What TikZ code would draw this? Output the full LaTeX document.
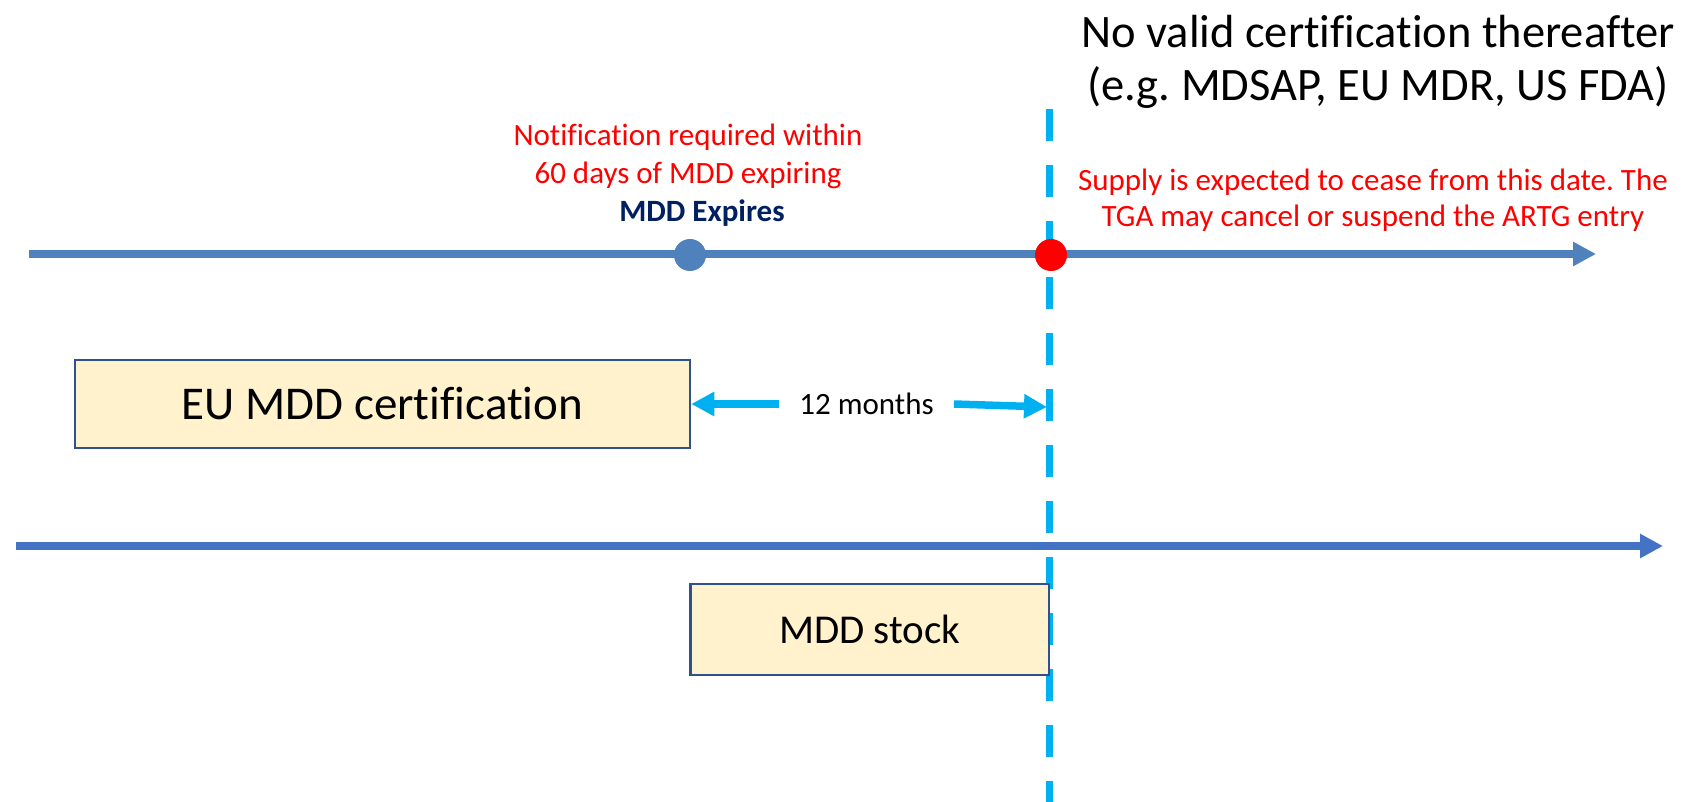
\documentclass[tikz,border=0pt]{standalone}
\usepackage{fontspec}
\setmainfont{Carlito}[Ligatures=NoCommon]
\usetikzlibrary{arrows.meta}
\definecolor{tlone}{HTML}{4F81BD}
\definecolor{tltwo}{HTML}{4472C4}
\definecolor{cyanline}{HTML}{00B0F0}
\definecolor{boxfill}{HTML}{FFF2CC}
\definecolor{boxline}{HTML}{2F528F}
\definecolor{navytext}{HTML}{002060}
\definecolor{rednote}{HTML}{FF0000}
\frenchspacing
\begin{document}
\begin{tikzpicture}[x=1pt,y=-1pt,
  bigtip/.style={-{Triangle[length=23pt,width=23pt]}},
  topline/.style={line width=7.5pt, draw=tlone, bigtip},
  bottomline/.style={line width=8pt, draw=tltwo, bigtip},
  cutline/.style={line width=7pt, draw=cyanline, dash pattern=on 32pt off 24pt},
  spanarrow/.style={line width=7.5pt, draw=cyanline, -{Triangle[length=23pt,width=23pt]}},
  phasebox/.style={draw=boxline, line width=2.5pt, fill=boxfill, inner sep=0pt},
  dot/.style={circle, minimum size=32pt, inner sep=0pt},
  note/.style={text=rednote, font=\fontsize{31}{37}\selectfont, align=center, anchor=base, inner sep=0pt}
]
\useasboundingbox (0,0) rectangle (1698,802);

% dashed cut-off line
\coordinate (dtop) at (1049.5,109);
\coordinate (dbot) at (1049.5,802);
\draw[cutline] (dtop) -- (dbot);

% top timeline
\coordinate (t1s) at (29,254);
\coordinate (t1e) at (1596,254);
\draw[topline] (t1s) -- (t1e);
\node[dot, fill=tlone] (bdot) at (690,255) {};
\node[dot, fill=rednote] (rdot) at (1051,255) {};

% bottom timeline
\coordinate (t2s) at (16,546);
\coordinate (t2e) at (1663,546);
\draw[bottomline] (t2s) -- (t2e);

% boxes
\node[phasebox, minimum width=615pt, minimum height=88pt,
      font=\fontsize{47}{56}\selectfont] (eu) at (382.5,404) {EU MDD certification};
\node[phasebox, minimum width=358.5pt, minimum height=91pt,
      font=\fontsize{41}{49}\selectfont] (stock) at (869.75,629.5) {MDD stock};

% 12 months span
\node[font=\fontsize{31}{37}\selectfont, inner xsep=20pt, inner ysep=0pt] (m12) at (866.5,404) {12 months};
\coordinate (cut12) at (1047,407);
\draw[spanarrow] (m12.west) -- (eu.east |- m12.west);
\draw[spanarrow] (m12.east) -- (cut12);

% texts (base anchor = baseline of the last line)
\node[font=\fontsize{46.5}{53}\selectfont, align=center, anchor=base, inner sep=0pt] (title) at (1378,101)
  {No valid certification thereafter\\(e.g. MDSAP, EU MDR, US FDA)};
\node[note, font=\fontsize{31}{36}\selectfont] (supply) at (1373,227)
  {Supply is expected to cease from this date. The\\TGA may cancel or suspend the ARTG entry};
\node[note, font=\fontsize{31}{38}\selectfont] (notif) at (688,184)
  {Notification required within\\60 days of MDD expiring};
\node[text=navytext, font=\fontsize{31}{37}\selectfont\bfseries, anchor=base, inner sep=0pt] (expires) at (702,222) {MDD Expires};
\end{tikzpicture}
\end{document}
